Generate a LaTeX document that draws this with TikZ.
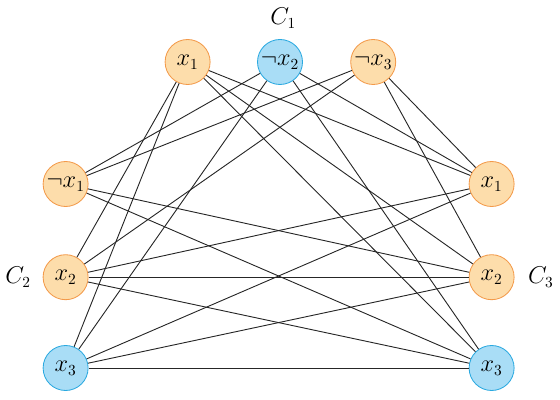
\documentclass[tikz,border=0pt]{standalone}
\usepackage{amsmath}
\usetikzlibrary{positioning}
\definecolor{LitOrange}{HTML}{FDDDAB}
\definecolor{LitOrangeEdge}{HTML}{F39A4A}
\definecolor{LitBlue}{HTML}{A9DDF6}
\definecolor{LitBlueEdge}{HTML}{2AA9E0}
\tikzset{
    lit/.style = {draw=LitOrangeEdge, fill=LitOrange, circle, semithick,
        minimum size=1.125cm, inner sep=0pt, font=\fontsize{16}{19}\selectfont},
    litblue/.style = {lit, draw=LitBlueEdge, fill=LitBlue},
    clause/.style = {font=\fontsize{16}{19}\selectfont},
    link/.style = {draw, black!85, line width=0.65pt}
}

\begin{document}
\begin{tikzpicture}
            \useasboundingbox (0,0) rectangle (14,-10);
            % clause C1
            \node[lit] (a1) at (4.69,-1.55) {$x_1$};
            \node[litblue] (a2) at (7.0,-1.55) {$\neg x_2$};
            \node[lit] (a3) at (9.33,-1.55) {$\neg x_3$};
            \node[clause] (C1) at (7.08,-0.45) {$C_1$};
            % clause C2
            \node[lit] (b1) at (1.64,-4.6) {$\neg x_1$};
            \node[lit] (b2) at (1.64,-6.93) {$x_2$};
            \node[litblue] (b3) at (1.64,-9.2) {$x_3$};
            \node[clause] (C2) at (0.45,-6.93) {$C_2$};
            % clause C3
            \node[lit] (c1) at (12.29,-4.6) {$x_1$};
            \node[lit] (c2) at (12.29,-6.93) {$x_2$};
            \node[litblue] (c3) at (12.29,-9.2) {$x_3$};
            \node[clause] (C3) at (13.52,-6.93) {$C_3$};
            % C1 -- C2
            \draw[link] (a1) -- (b2);
            \draw[link] (a1) -- (b3);
            \draw[link] (a2) -- (b1);
            \draw[link] (a2) -- (b3);
            \draw[link] (a3) -- (b1);
            \draw[link] (a3) -- (b2);
            % C1 -- C3
            \draw[link] (a1) -- (c1);
            \draw[link] (a1) -- (c2);
            \draw[link] (a1) -- (c3);
            \draw[link] (a2) -- (c1);
            \draw[link] (a2) -- (c3);
            \draw[link] (a3) -- (c1);
            \draw[link] (a3) -- (c2);
            % C2 -- C3
            \draw[link] (b1) -- (c2);
            \draw[link] (b1) -- (c3);
            \draw[link] (b2) -- (c1);
            \draw[link] (b2) -- (c2);
            \draw[link] (b2) -- (c3);
            \draw[link] (b3) -- (c1);
            \draw[link] (b3) -- (c2);
            \draw[link] (b3) -- (c3);
\end{tikzpicture}
\end{document}
